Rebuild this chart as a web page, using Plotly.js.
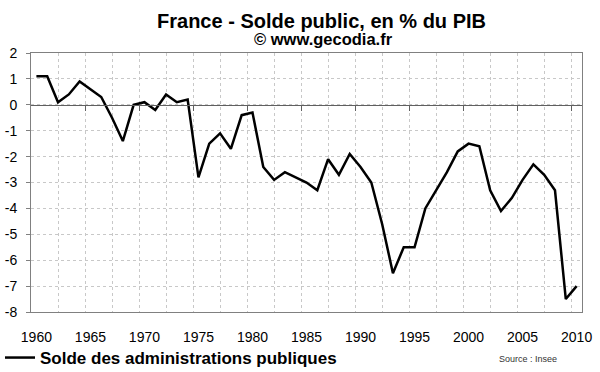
<!DOCTYPE html>
<html>
<head>
<meta charset="utf-8">
<script src="https://cdn.plot.ly/plotly-3.0.1.min.js"></script>
<style>
html,body{margin:0;padding:0;background:#fff;}
#chart{width:600px;height:372px;}
</style>
</head>
<body>
<div id="chart"></div>
<script>
// ---- Data ----
const years = [1960,1961,1962,1963,1964,1965,1966,1967,1968,1969,
               1970,1971,1972,1973,1974,1975,1976,1977,1978,1979,
               1980,1981,1982,1983,1984,1985,1986,1987,1988,1989,
               1990,1991,1992,1993,1994,1995,1996,1997,1998,1999,
               2000,2001,2002,2003,2004,2005,2006,2007,2008,2009,2010];
const solde = [1.1,1.1,0.1,0.4,0.9,0.6,0.3,-0.5,-1.4,0.0,
               0.1,-0.2,0.4,0.1,0.2,-2.8,-1.5,-1.1,-1.7,-0.4,
               -0.3,-2.4,-2.9,-2.6,-2.8,-3.0,-3.3,-2.1,-2.7,-1.9,
               -2.4,-3.0,-4.6,-6.5,-5.5,-5.5,-4.0,-3.3,-2.6,-1.8,
               -1.5,-1.6,-3.3,-4.1,-3.6,-2.9,-2.3,-2.7,-3.3,-7.5,-7.0];
const xTickLabels = [1960,1965,1970,1975,1980,1985,1990,1995,2000,2005,2010];
const yTicks = [2,1,0,-1,-2,-3,-4,-5,-6,-7,-8];
const seriesName = "Solde des administrations publiques";
const titleText = "France - Solde public, en % du PIB";
const subtitleText = "© www.gecodia.fr";
const sourceText = "Source : Insee";

// ---- Chart ----
const FONT = "Liberation Sans, Arial, sans-serif";
const xRange = [years[0]-0.5, years[years.length-1]+0.5];
// tick marks on the zero line sit between categories, every 5 years
const zeroTicks = xTickLabels.slice(1).map(v => v - 0.5);

const traces = [
  {
    x: years, y: solde, type: 'scatter', mode: 'lines',
    name: '<b>' + seriesName + '</b>',
    line: {color: '#000000', width: 2.5},
    xaxis: 'x', yaxis: 'y'
  },
  {
    x: [], y: [], type: 'scatter', mode: 'lines',
    showlegend: false, hoverinfo: 'skip',
    xaxis: 'x2', yaxis: 'y'
  }
];

const layout = {
  width: 600, height: 372,
  paper_bgcolor: '#ffffff', plot_bgcolor: '#ffffff',
  margin: {l: 31, r: 18, t: 53, b: 60, pad: 0},
  font: {family: FONT, color: '#000000', size: 14},
  title: {
    text: '<b>' + titleText + '</b>',
    font: {family: FONT, size: 20, color: '#000000'},
    xref: 'container', x: 321.5/600, xanchor: 'center',
    yref: 'container', y: 1 - 20.5/372, yanchor: 'middle'
  },
  showlegend: true,
  legend: {
    orientation: 'h',
    xref: 'container', yref: 'container',
    x: -4/600, y: 1 - 358/372, xanchor: 'left', yanchor: 'middle',
    font: {family: FONT, size: 17, color: '#000000'},
    bgcolor: 'rgba(0,0,0,0)', borderwidth: 0
  },
  xaxis: {
    range: xRange, type: 'linear',
    tickmode: 'array', tickvals: xTickLabels, ticktext: xTickLabels.map(String),
    ticks: '', showgrid: false, zeroline: false,
    ticklabelstandoff: 12,
    tickfont: {family: FONT, size: 14, color: '#000000'},
    showline: true, linecolor: '#808080', linewidth: 1, mirror: true,
    minor: {
      tick0: xRange[0], dtick: 2.5, showgrid: true,
      gridcolor: '#c8c8c8', griddash: 'dot', gridwidth: 1, ticks: ''
    },
    fixedrange: true
  },
  xaxis2: {
    overlaying: 'x', anchor: 'free', position: 0.8, side: 'bottom',
    range: xRange, type: 'linear',
    tickmode: 'array', tickvals: zeroTicks,
    ticks: 'outside', ticklen: 5, tickcolor: '#606060', tickwidth: 1,
    showticklabels: false, showgrid: false, zeroline: false,
    showline: true, linecolor: '#606060', linewidth: 1
  },
  yaxis: {
    range: [-8, 2], tickmode: 'array', tickvals: yTicks,
    ticktext: yTicks.map(String),
    ticks: 'outside', ticklen: 4, tickcolor: '#808080', tickwidth: 1,
    ticklabelstandoff: 6,
    showgrid: true, gridcolor: '#c8c8c8', griddash: 'dot', gridwidth: 1,
    zeroline: false,
    tickfont: {family: FONT, size: 14, color: '#000000'},
    showline: true, linecolor: '#808080', linewidth: 1, mirror: true,
    fixedrange: true
  },
  annotations: [
    {
      text: '<b>' + subtitleText + '</b>',
      xref: 'paper', yref: 'paper',
      x: (323.5-31)/(600-31-18), y: 1 + (53-38.5)/(372-53-60),
      xanchor: 'center', yanchor: 'middle', showarrow: false,
      font: {family: FONT, size: 16.5, color: '#000000'}
    },
    {
      text: sourceText,
      xref: 'paper', yref: 'paper',
      x: (497-31)/(600-31-18), y: -(359-312)/(372-53-60),
      xanchor: 'left', yanchor: 'middle', showarrow: false,
      font: {family: FONT, size: 9, color: '#333333'}
    }
  ]
};

Plotly.newPlot('chart', traces, layout, {displayModeBar: false, staticPlot: true});
</script>
</body>
</html>
